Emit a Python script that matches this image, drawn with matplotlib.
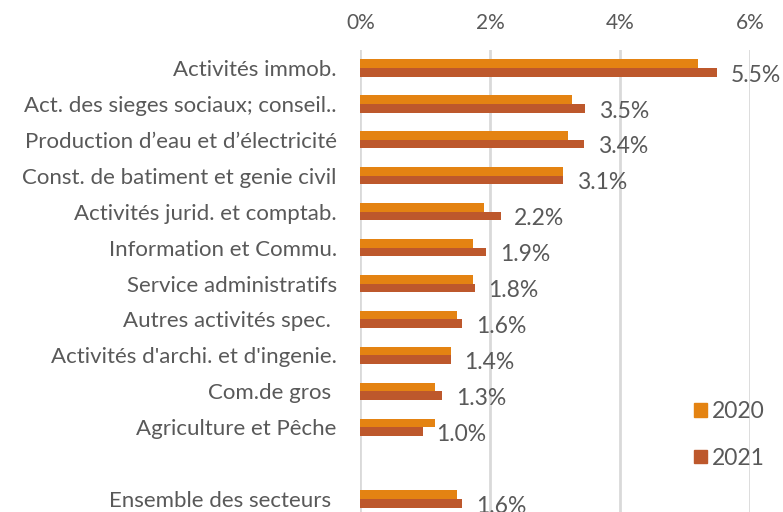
import matplotlib
matplotlib.use("Agg")
import matplotlib.pyplot as plt
from matplotlib.patches import Patch
import numpy as np

categories = [
    "Activités immob.",
    "Act. des sieges sociaux; conseil..",
    "Production d\u2019eau et d\u2019électricité",
    "Const. de batiment et genie civil",
    "Activités jurid. et comptab.",
    "Information et Commu.",
    "Service administratifs",
    "Autres activités spec. ",
    "Activités d'archi. et d'ingenie.",
    "Com.de gros ",
    "Agriculture et Pêche",
    "Ensemble des secteurs ",
]
values_2020 = [5.19, 3.26, 3.20, 3.12, 1.90, 1.73, 1.73, 1.49, 1.39, 1.15, 1.15, 1.49]
values_2021 = [5.49, 3.46, 3.44, 3.12, 2.16, 1.94, 1.76, 1.57, 1.39, 1.26, 0.96, 1.57]
series_names = ["2020", "2021"]
xticks = [0, 2, 4, 6]

c2020 = "#E48312"
c2021 = "#BD582C"
txt = "#595959"
font = "Lato"

fig = plt.figure(figsize=(7.83, 5.12), dpi=100)
top_px, bot_px = 50, 517
ax = fig.add_axes([360.3 / 783, 1 - bot_px / 512, (750.3 - 360.3) / 783, (bot_px - top_px) / 512])

pos = np.array(list(range(len(categories) - 1)) + [len(categories)], dtype=float)
h = 0.24
ax.barh(pos - h / 2, values_2020, height=h, color=c2020, label=series_names[0], zorder=3)
ax.barh(pos + h / 2, values_2021, height=h, color=c2021, label=series_names[1], zorder=3)

for p, v in zip(pos, values_2021):
    ax.text(v + 0.21, p + h / 2 + 0.08, f"{v:.1f}%", va="center", ha="left",
            fontsize=16.5, color=txt, family=font)

ax.set_xlim(0, 6)
ax.set_ylim(pos[-1] + 0.5, -0.5)
ax.set_xticks(xticks)
ax.set_xticklabels([f"{t}%" for t in xticks])
ax.xaxis.tick_top()
ax.tick_params(axis="x", length=0, pad=12, labelsize=15, labelcolor=txt)
ax.set_yticks(pos)
ax.set_yticklabels(categories)
ax.tick_params(axis="y", length=0, pad=17, labelsize=16, labelcolor=txt)
for lab in ax.get_xticklabels() + ax.get_yticklabels():
    lab.set_family(font)
ax.grid(axis="x", color="#D9D9D9", linewidth=2, zorder=0)
for s in ax.spines.values():
    s.set_visible(False)

handles = [Patch(color=c2020), Patch(color=c2021)]
leg = fig.legend(handles, series_names, loc="center left",
                 bbox_to_anchor=(0.860, 0.151), frameon=False,
                 handlelength=0.55, handleheight=0.55, handletextpad=0.25,
                 labelspacing=1.13, prop={"family": font, "size": 16.5})
for t in leg.get_texts():
    t.set_color(txt)

fig.savefig("out.png", dpi=100)
